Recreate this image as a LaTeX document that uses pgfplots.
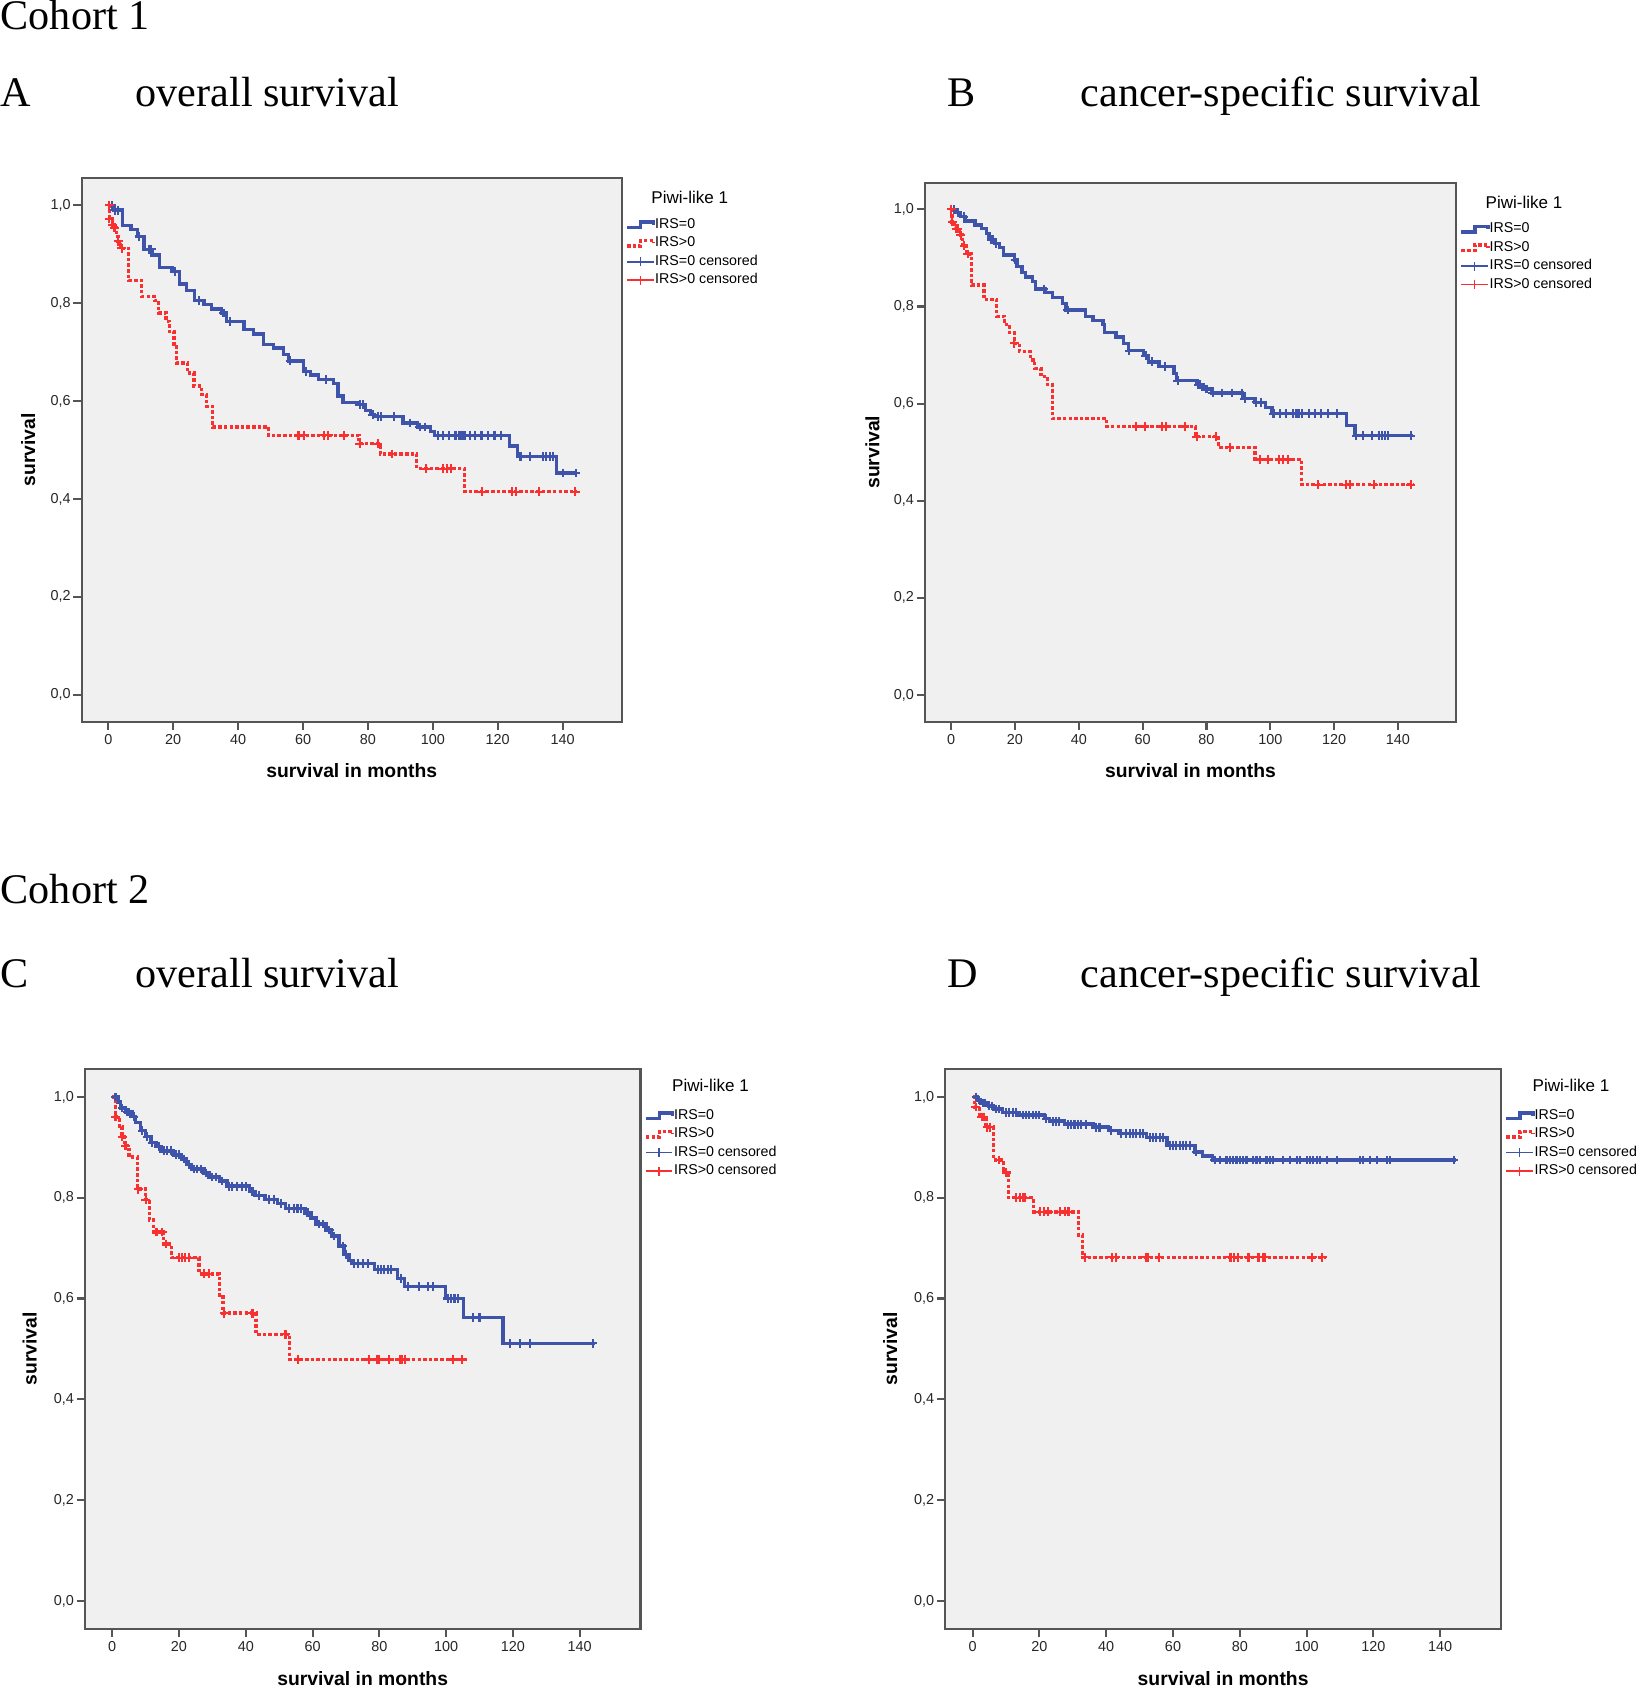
\documentclass[border=0pt]{standalone}
\usepackage{fontspec}
\setmainfont{Liberation Sans}
\newfontfamily\serif{Liberation Serif}
\usepackage{pgfplots}
\pgfplotsset{compat=1.18}

\definecolor{kmblue}{RGB}{62,84,170}
\definecolor{kmred}{RGB}{248,48,48}
\definecolor{bgc}{RGB}{240,240,240}
\definecolor{framec}{RGB}{85,85,85}

\pgfplotsset{
  km/.style={
    scale only axis, clip=false,
    xmin=-8.2, xmax=158.2, ymin=-0.055, ymax=1.055,
    axis background/.style={fill=bgc},
    axis line style={draw=framec, line width=0.6pt},
    tick pos=left, tick align=outside, major tick length=0.083cm,
    tick style={draw=framec, line width=0.6pt},
    xtick={0,20,40,60,80,100,120,140},
    xticklabels={0,20,40,60,80,100,120,140},
    ytick={0,0.2,0.4,0.6,0.8,1},
    yticklabels={{0,0},{0,2},{0,4},{0,6},{0,8},{1,0}},
    tick label style={font=\fontsize{4.1}{5}\selectfont, text=black!85},
    yticklabel style={inner sep=0.02cm},
    xticklabel style={inner sep=0.04cm},
    xlabel={survival in months}, ylabel={survival},
    label style={font=\bfseries\fontsize{5.5}{6.5}\selectfont},
    xlabel style={at={(axis description cs:0.5,-0.09)}, anchor=center},
    ylabel style={at={(axis description cs:-0.099,0.5)}, anchor=center},
    legend style={at={(1,1)}, anchor=north west, xshift=0.03cm, yshift=-0.385cm,
      draw=none, fill=none, inner sep=0pt, row sep=0.04cm,
      font=\fontsize{4.05}{4.8}\selectfont,
      nodes={inner sep=0pt, text height=0.11cm, text depth=0.035cm},
      /tikz/every even column/.style={column sep=0.012cm}},
    legend cell align=left,
  },
  surv/.style={const plot, line width=0.95pt, forget plot},
  cens/.style={only marks, mark=+, mark size=1.25pt, mark options={line width=0.6pt, solid}, forget plot},
  redline/.style={kmred, dash pattern=on 1pt off 0.6pt},
}

\newcommand\kmlegend{%
  \addlegendimage{legend image code/.code={\draw[kmblue,line width=0.95pt] (0cm,-0.028cm) -- (0.135cm,-0.028cm) -- (0.135cm,0.028cm) -- (0.265cm,0.028cm) -- (0.265cm,0cm);}}
  \addlegendentry{IRS=0}
  \addlegendimage{legend image code/.code={\draw[kmred,line width=0.95pt,dash pattern=on 1pt off 0.6pt] (0cm,-0.028cm) -- (0.135cm,-0.028cm) -- (0.135cm,0.028cm) -- (0.265cm,0.028cm) -- (0.265cm,0cm);}}
  \addlegendentry{IRS>0}
  \addlegendimage{legend image code/.code={\draw[kmblue,line width=0.45pt] (0cm,0cm) -- (0.265cm,0cm) (0.1325cm,-0.045cm) -- (0.1325cm,0.045cm);}}
  \addlegendentry{IRS=0 censored}
  \addlegendimage{legend image code/.code={\draw[kmred,line width=0.45pt] (0cm,0cm) -- (0.265cm,0cm) (0.1325cm,-0.045cm) -- (0.1325cm,0.045cm);}}
  \addlegendentry{IRS>0 censored}
}

\begin{document}
\begin{tikzpicture}
\useasboundingbox (0,0) rectangle (16.41,16.88);
\clip (0,0) rectangle (16.41,16.88);

% headings
\begin{scope}[every node/.style={anchor=base west, inner sep=0pt, font=\serif\fontsize{12}{14}\selectfont}]
  \node at (0,16.58) {Cohort 1};
  \node at (0,15.81) {A};
  \node at (1.35,15.81) {overall survival};
  \node at (9.47,15.81) {B};
  \node at (10.8,15.81) {cancer-specific survival};
  \node at (0,7.84) {Cohort 2};
  \node at (0,7.00) {C};
  \node at (1.35,7.00) {overall survival};
  \node at (9.47,7.00) {D};
  \node at (10.8,7.00) {cancer-specific survival};
\end{scope}

% A: cohort 1, overall survival
\begin{axis}[km, name=A, at={(0.817cm,15.097cm)}, anchor=north west, width=5.40cm, height=5.434cm]
  \addplot[surv, kmblue] coordinates {(0,1.0)(1.5,0.99)(4.3,0.958)(7,0.95)(8.9,0.936)(11,0.91)(13.5,0.898)(15.8,0.873)(19.6,0.864)(21.9,0.839)(24,0.826)(26.5,0.805)(29.5,0.797)(31.8,0.788)(34.9,0.78)(36.4,0.763)(41.8,0.746)(44.8,0.737)(47.9,0.716)(51,0.708)(54,0.695)(55.5,0.682)(60.1,0.661)(62.4,0.653)(64.7,0.644)(69.3,0.636)(70.8,0.61)(72.3,0.597)(77,0.593)(79.3,0.58)(80.8,0.572)(82,0.568)(90.8,0.555)(95.3,0.547)(99.2,0.538)(100.5,0.53)(123.6,0.508)(126,0.487)(138.2,0.453)(144.3,0.453)};
  \addplot[surv, redline] coordinates {(0,1.0)(0.3,0.972)(1.2,0.96)(1.8,0.954)(2.5,0.94)(3,0.926)(3.8,0.912)(6.3,0.846)(10.3,0.814)(14.2,0.805)(15.5,0.78)(17.8,0.763)(18.8,0.742)(20.2,0.712)(21,0.678)(24.4,0.657)(26.4,0.631)(28.7,0.614)(30.2,0.589)(32.2,0.547)(49.4,0.53)(77.3,0.513)(83.8,0.492)(95,0.462)(109.8,0.415)(144.3,0.415)};
  \addplot[cens, kmblue] coordinates {(1,1.0)(2,0.99)(3,0.99)(9.5,0.936)(12.5,0.91)(13.2,0.91)(20.5,0.864)(28,0.805)(35.5,0.78)(37.5,0.763)(56,0.682)(61,0.661)(67,0.644)(77.5,0.593)(78.5,0.593)(81.5,0.572)(83,0.568)(84,0.568)(88,0.568)(93,0.555)(96,0.547)(97.5,0.547)(101.5,0.53)(103,0.53)(105,0.53)(107,0.53)(108,0.53)(108.6,0.53)(109.2,0.53)(110,0.53)(111.5,0.53)(113,0.53)(115,0.53)(117,0.53)(119,0.53)(121,0.53)(127,0.487)(130,0.487)(134,0.487)(135,0.487)(136,0.487)(137,0.487)(140,0.453)(144,0.453)};
  \addplot[cens, kmred] coordinates {(0.3,1.0)(0.3,0.972)(1.3,0.96)(1.9,0.954)(3.1,0.926)(4.1,0.912)(58.6,0.53)(60.4,0.53)(66.6,0.53)(67.8,0.53)(72.7,0.53)(77.5,0.513)(83,0.513)(87.4,0.492)(98,0.462)(103,0.462)(104.5,0.462)(105.7,0.462)(115.2,0.415)(124.4,0.415)(125.6,0.415)(132.8,0.415)(143.9,0.415)};
  \kmlegend
\end{axis}

% B: cohort 1, cancer-specific survival
\begin{axis}[km, name=B, at={(9.25cm,15.053cm)}, anchor=north west, width=5.31cm, height=5.39cm]
  \addplot[surv, kmblue] coordinates {(0,1.0)(1.6,0.994)(2.9,0.985)(4.3,0.976)(7.5,0.968)(9.5,0.96)(11.1,0.951)(11.9,0.938)(13.5,0.93)(15.1,0.921)(16.3,0.906)(19.8,0.896)(20.6,0.883)(22.2,0.87)(23.3,0.861)(25.4,0.851)(26.5,0.836)(29.4,0.829)(31.7,0.818)(34.9,0.806)(36,0.793)(42,0.78)(44.4,0.771)(47.6,0.763)(48.1,0.746)(51.6,0.737)(54,0.724)(55.5,0.709)(60.3,0.699)(61.9,0.686)(65.1,0.676)(69.8,0.662)(70.6,0.647)(77,0.639)(78.9,0.63)(81.7,0.622)(91.3,0.61)(95.2,0.603)(98.4,0.592)(100.5,0.579)(123.8,0.555)(126.5,0.534)(144.7,0.534)};
  \addplot[surv, redline] coordinates {(0,1.0)(0.3,0.974)(1.1,0.96)(2.4,0.947)(3.5,0.925)(4.8,0.908)(6.3,0.844)(10.3,0.814)(14.3,0.78)(16.7,0.763)(18.3,0.746)(19.8,0.724)(21.4,0.707)(24.9,0.69)(26.2,0.673)(28.1,0.656)(30.2,0.639)(31.7,0.57)(48.7,0.553)(76.5,0.532)(83.8,0.51)(95.2,0.485)(109.8,0.433)(144.7,0.433)};
  \addplot[cens, kmblue] coordinates {(1,1.0)(2,0.994)(4,0.985)(12.5,0.938)(13,0.938)(14,0.93)(20,0.896)(29,0.836)(36.5,0.793)(55.8,0.709)(61,0.699)(63,0.686)(67,0.676)(71,0.647)(77.5,0.639)(78,0.639)(80,0.63)(82,0.622)(85,0.622)(88,0.622)(91,0.622)(92,0.61)(95.5,0.603)(97,0.603)(101,0.579)(103,0.579)(105,0.579)(107,0.579)(108,0.579)(108.5,0.579)(109,0.579)(110,0.579)(112,0.579)(114,0.579)(116,0.579)(118,0.579)(121,0.579)(127,0.534)(129,0.534)(132,0.534)(134,0.534)(135,0.534)(136,0.534)(137,0.534)(144,0.534)};
  \addplot[cens, kmred] coordinates {(0,1.0)(0.3,0.974)(1.5,0.96)(2,0.96)(3,0.947)(4,0.925)(5.2,0.908)(19.8,0.724)(57.9,0.553)(60.6,0.553)(66.1,0.553)(67.4,0.553)(73.2,0.553)(77,0.532)(83,0.532)(87.3,0.51)(96.8,0.485)(99.2,0.485)(102.7,0.485)(104,0.485)(105.5,0.485)(115,0.433)(123.8,0.433)(125,0.433)(132.5,0.433)(144,0.433)};
  \kmlegend
\end{axis}

% C: cohort 2, overall survival
\begin{axis}[km, name=C, at={(0.848cm,6.188cm)}, anchor=north west, width=5.557cm, height=5.595cm]
  \addplot[surv, kmblue] coordinates {(0,1.0)(1.7,0.99)(2.4,0.978)(4,0.97)(5.9,0.961)(7,0.949)(8.5,0.933)(10,0.921)(11.6,0.909)(13.1,0.901)(14.6,0.893)(18.4,0.885)(20.7,0.877)(22.2,0.866)(23.7,0.857)(27.5,0.849)(29,0.841)(32.1,0.833)(34.4,0.823)(41.2,0.813)(42.8,0.805)(45.8,0.797)(49.6,0.788)(51.9,0.778)(57.7,0.77)(59.5,0.76)(61,0.748)(64,0.736)(65.6,0.724)(67.9,0.704)(69.4,0.688)(70.9,0.676)(71.7,0.67)(78.5,0.657)(85.4,0.64)(87.6,0.624)(99.8,0.6)(105.2,0.563)(117,0.511)(144.7,0.511)};
  \addplot[surv, redline] coordinates {(0,1.0)(0.9,0.96)(2.1,0.941)(2.9,0.921)(3.7,0.903)(5,0.881)(7.5,0.817)(10,0.796)(11.1,0.756)(12.3,0.732)(15.4,0.708)(17.7,0.681)(26,0.649)(32.1,0.607)(33.2,0.571)(43.1,0.529)(53.1,0.479)(105.2,0.479)};
  \addplot[cens, kmblue] coordinates {(1,1.0)(3,0.978)(4.5,0.97)(5,0.97)(6.5,0.961)(9,0.933)(10.5,0.921)(12,0.909)(14,0.901)(15.5,0.893)(16.5,0.893)(17.5,0.893)(19,0.885)(20,0.885)(21.5,0.877)(23,0.866)(24.5,0.857)(25.5,0.857)(26.5,0.857)(28,0.849)(30,0.841)(31,0.841)(33,0.833)(35,0.823)(36,0.823)(37.5,0.823)(39,0.823)(40,0.823)(42,0.813)(44,0.805)(47,0.797)(48.5,0.797)(50.5,0.788)(53,0.778)(54.5,0.778)(55.5,0.778)(56.5,0.778)(58.5,0.77)(62,0.748)(63,0.748)(65,0.736)(66.5,0.724)(69,0.704)(70,0.688)(72.5,0.67)(73.5,0.67)(75,0.67)(76.5,0.67)(79.5,0.657)(80.5,0.657)(81.5,0.657)(82.5,0.657)(83.5,0.657)(86.5,0.64)(88.5,0.624)(92,0.624)(94.5,0.624)(96,0.624)(100.5,0.6)(101.5,0.6)(102.5,0.6)(103.5,0.6)(108,0.563)(110,0.563)(119,0.511)(122,0.511)(125,0.511)(144,0.511)};
  \addplot[cens, kmred] coordinates {(1,0.96)(3,0.921)(4,0.903)(7.8,0.817)(10,0.796)(13.1,0.732)(13.5,0.732)(15,0.732)(16.1,0.708)(19.9,0.681)(21,0.681)(21.8,0.681)(23,0.681)(27.5,0.649)(29,0.649)(33.6,0.571)(42,0.571)(51.9,0.529)(55.7,0.479)(77,0.479)(79.3,0.479)(80,0.479)(83,0.479)(86.1,0.479)(86.9,0.479)(87.6,0.479)(102.1,0.479)(104.8,0.479)};
  \kmlegend
\end{axis}

% D: cohort 2, cancer-specific survival
\begin{axis}[km, name=D, at={(9.452cm,6.188cm)}, anchor=north west, width=5.558cm, height=5.595cm]
  \addplot[surv, kmblue] coordinates {(0,1.0)(1.4,0.994)(2.4,0.988)(4.7,0.982)(6.3,0.976)(9,0.969)(13.9,0.964)(21.5,0.957)(23,0.952)(27.6,0.946)(36,0.94)(40.6,0.934)(43.7,0.927)(52.1,0.919)(58.2,0.903)(66.6,0.891)(68.9,0.883)(71.9,0.875)(144.7,0.875)};
  \addplot[surv, redline] coordinates {(0,1.0)(0.5,0.98)(2,0.96)(4,0.94)(6.3,0.875)(9.3,0.85)(10.8,0.8)(18.2,0.772)(31.8,0.726)(33,0.682)(105.8,0.682)};
  \addplot[cens, kmblue] coordinates {(1,1.0)(2,0.994)(3,0.988)(3.7,0.988)(5,0.982)(5.7,0.982)(7,0.976)(8,0.976)(10,0.969)(11,0.969)(12,0.969)(13,0.969)(15,0.964)(16,0.964)(17,0.964)(18,0.964)(19,0.964)(20,0.964)(22,0.957)(24,0.952)(25,0.952)(26,0.952)(28.5,0.946)(29.5,0.946)(30.5,0.946)(31.5,0.946)(32.5,0.946)(34,0.946)(37,0.94)(38,0.94)(41.5,0.934)(44.5,0.927)(46,0.927)(47,0.927)(48,0.927)(49,0.927)(50,0.927)(51,0.927)(53,0.919)(54,0.919)(55,0.919)(56,0.919)(57,0.919)(59,0.903)(60,0.903)(61,0.903)(62,0.903)(63,0.903)(64,0.903)(65,0.903)(67,0.891)(72.5,0.875)(74,0.875)(76,0.875)(77,0.875)(78,0.875)(79,0.875)(80,0.875)(81,0.875)(82,0.875)(84,0.875)(85,0.875)(86,0.875)(88,0.875)(89,0.875)(90,0.875)(93,0.875)(95,0.875)(97,0.875)(98,0.875)(100,0.875)(101,0.875)(102,0.875)(103,0.875)(104,0.875)(106,0.875)(109,0.875)(116,0.875)(117,0.875)(119,0.875)(121,0.875)(124,0.875)(125,0.875)(144,0.875)};
  \addplot[cens, kmred] coordinates {(0.9,0.98)(2.7,0.96)(3.3,0.96)(4.4,0.94)(5.2,0.94)(7.8,0.875)(10.1,0.85)(13.1,0.8)(14.2,0.8)(15.1,0.8)(15.7,0.8)(20.3,0.772)(21.5,0.772)(22.7,0.772)(26.1,0.772)(27.6,0.772)(28.7,0.772)(33.7,0.682)(41.8,0.682)(42.9,0.682)(51.8,0.682)(52.5,0.682)(55.9,0.682)(77.2,0.682)(78.3,0.682)(79.5,0.682)(82.6,0.682)(85.6,0.682)(86.9,0.682)(87.5,0.682)(101.7,0.682)(104.7,0.682)};
  \kmlegend
\end{axis}

% legend titles
\begin{scope}[every node/.style={anchor=west, inner sep=0pt, font=\fontsize{4.85}{5.8}\selectfont}]
  \node at ([xshift=0.29cm,yshift=-0.19cm]A.north east) {Piwi-like 1};
  \node at ([xshift=0.29cm,yshift=-0.195cm]B.north east) {Piwi-like 1};
  \node at ([xshift=0.31cm,yshift=-0.165cm]C.north east) {Piwi-like 1};
  \node at ([xshift=0.31cm,yshift=-0.165cm]D.north east) {Piwi-like 1};
\end{scope}
\end{tikzpicture}
\end{document}
